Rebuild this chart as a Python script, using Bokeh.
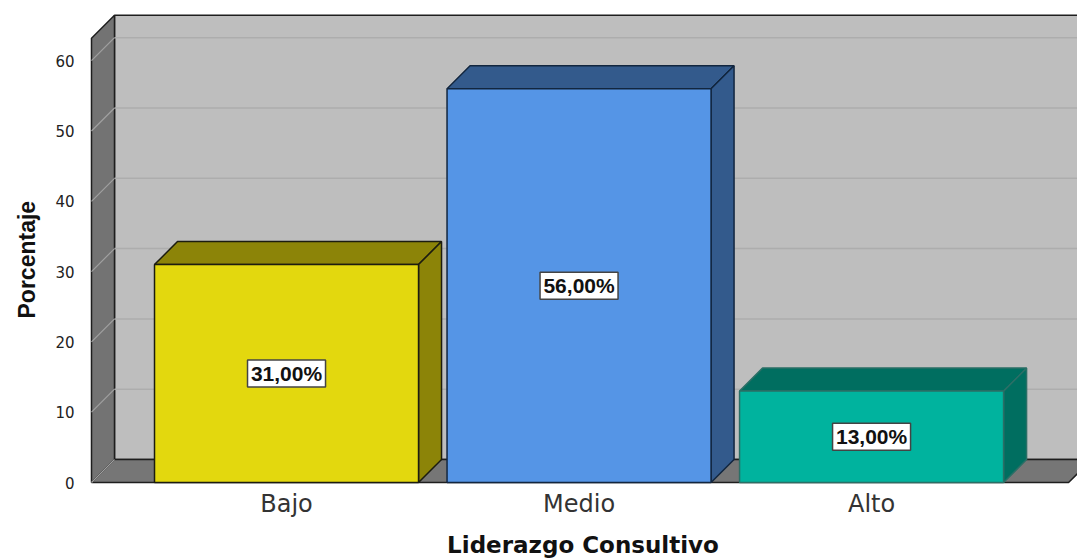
from bokeh.plotting import figure
from bokeh.models import ColumnDataSource, FixedTicker, Range1d, Title
from bokeh.core.properties import value
from bokeh.embed import file_html
from bokeh.resources import INLINE

categories = ["Bajo", "Medio", "Alto"]
percentages = [31.0, 56.0, 13.0]
bar_labels = ["31,00%", "56,00%", "13,00%"]
y_ticks = [0, 10, 20, 30, 40, 50, 60]
front_colors = ["#e3d80e", "#5595e6", "#00b39e"]
dark_colors = ["#8c8408", "#335a8c", "#006e60"]
edge_colors = ["#1c1c10", "#12263f", "#2a6f66"]

PX_Y = 7.03          # pixels per percent
PX_X = 292.5         # pixels per category
DX = 23 / PX_X       # depth of the 3D box
DY = 23 / PX_Y
BAR_W = 264 / PX_X
X0 = -0.6667         # left front edge of the box
X1 = 2.6735          # right front edge of the box
YTOP = 63.2
XEND = 2.704
YEND = 470 / PX_Y
PAD_X = 3 / PX_X
PAD_Y = 3 / PX_Y
IDX = list(range(len(categories)))

p = figure(width=1077, height=560, output_backend="svg", toolbar_location=None,
           x_range=Range1d(X0 - PAD_X, XEND), y_range=Range1d(-PAD_Y, YEND),
           min_border_left=88, min_border_top=12, min_border_right=0, min_border_bottom=75)
p.outline_line_color = None
p.grid.visible = False

# walls and floor
p.patch([X0 + DX, X1 + DX, X1 + DX, X0 + DX], [DY, DY, YTOP + DY, YTOP + DY],
        fill_color="#bebebe", line_color="#1e1e1e", line_width=1.5)
p.patch([X0, X0 + DX, X0 + DX, X0], [0, DY, YTOP + DY, YTOP],
        fill_color="#737373", line_color="#1e1e1e", line_width=1.5)
p.patch([X0, X1, X1 + DX, X0 + DX], [0, 0, DY, DY],
        fill_color="#767676", line_color="#1e1e1e", line_width=1.5)
p.segment([X0 + DX] * len(y_ticks[1:]), [t + DY for t in y_ticks[1:]],
          [XEND] * len(y_ticks[1:]), [t + DY for t in y_ticks[1:]],
          line_color="#adadad", line_width=1.5)
p.segment([X0] * len(y_ticks), y_ticks, [X0 + DX] * len(y_ticks), [t + DY for t in y_ticks],
          line_color="#a0a0a0", line_width=1.2)

# 3D bars
for i, v, fc, dc, ec in zip(IDX, percentages, front_colors, dark_colors, edge_colors):
    l, r = i - BAR_W / 2, i + BAR_W / 2
    p.patch([l, r, r + DX, l + DX], [v, v, v + DY, v + DY], fill_color=dc, line_color=ec, line_width=1.5)
    p.patch([r, r + DX, r + DX, r], [0, DY, v + DY, v], fill_color=dc, line_color=ec, line_width=1.5)
    p.quad(left=[l], right=[r], bottom=[0], top=[v], fill_color=fc, line_color=ec, line_width=1.5)

# value labels
src = ColumnDataSource(dict(x=IDX, y=[v / 2 for v in percentages], t=bar_labels))
p.rect("x", "y", width=78, height=27, width_units="screen", height_units="screen",
       source=src, fill_color="white", line_color="#444444", line_width=1.5)
p.text("x", "y", text="t", source=src, text_align="center", text_baseline="middle",
       text_font=value("Liberation Sans"), text_font_style="bold", text_font_size="21px",
       text_color="#111111")

# axes
yax = p.yaxis[0]
yax.ticker = FixedTicker(ticks=y_ticks)
yax.axis_line_color = None
yax.major_tick_line_color = None
yax.minor_tick_line_color = None
yax.major_label_standoff = 8
yax.major_label_text_font = "DejaVu Sans"
yax.major_label_text_font_size = "15px"
yax.major_label_text_color = "#222222"

xax = p.xaxis[0]
xax.ticker = FixedTicker(ticks=IDX)
xax.major_label_overrides = dict(zip(IDX, categories))
xax.axis_line_color = None
xax.major_tick_line_color = None
xax.minor_tick_line_color = None
xax.major_label_standoff = -2
xax.major_label_text_font = "DejaVu Sans"
xax.major_label_text_font_size = "24px"
xax.major_label_text_color = "#333333"
xax.axis_label = "Liderazgo Consultivo"
xax.axis_label_text_font = "DejaVu Sans"
xax.axis_label_text_font_style = "bold"
xax.axis_label_text_font_size = "23px"
xax.axis_label_text_color = "#111111"
xax.axis_label_standoff = 11

# y title, offset from the frame's lower end so it sits where the reference has it
p.add_layout(Title(text="Porcentaje", align="left", offset=167, standoff=22, vertical_align="top",
                   text_font="Liberation Sans", text_font_style="bold",
                   text_font_size="23px", text_color="#111111"), "left")

open("out.html", "w").write(file_html(p, INLINE))
